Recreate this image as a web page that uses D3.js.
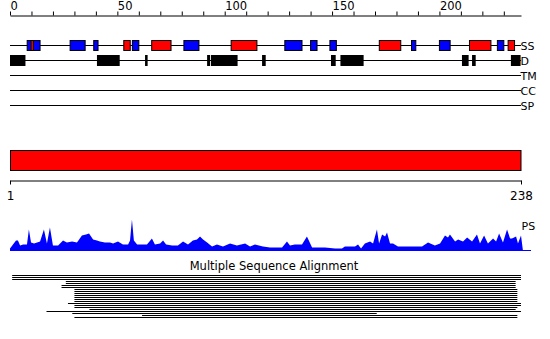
<!DOCTYPE html>
<html>
<head>
<meta charset="utf-8">
<script src="https://cdn.jsdelivr.net/npm/d3@7/dist/d3.min.js"></script>
<style>
    body { margin: 0; background: #fff; }
    svg text { font-family: "DejaVu Sans", sans-serif; fill: #000; }
</style>
</head>
<body>
<div id="chart"></div>
<script>
// * * * data (residue positions) * * *
const seqLength = 238;
const topTickLabels = [0, 50, 100, 150, 200];
const endLabels = [1, 238];
const trackNames = ["SS", "D", "TM", "CC", "SP"];

// secondary structure: strands (blue) and helices (red)
const strands = [[8, 14], [28, 35], [39, 41], [57, 60], [81, 88], [128, 136], [140, 143],
    [149, 152], [187, 189], [200, 205], [227, 230]];
const helices = [[9.8, 10.9], [53, 56], [66, 75], [103, 115], [172, 182], [214, 224], [232, 235]];

// disordered regions
const disorder = [[0, 7.2], [40.5, 51.1], [62.9, 64.1], [91.8, 93.2], [93.6, 106], [117.4, 119.1],
    [149.5, 151.7], [153.9, 164.7], [210.5, 213.6], [215.2, 216.9], [233.3, 237.8]];

// domain bar
const domains = [[0, 238]];

// PS profile
const psPos = [0, 1.4, 2.8, 3.7, 4.7, 6.1, 7.9, 8.8, 9.8, 11.2, 12.6, 14, 15.8, 17.2, 18.6, 20, 22.4,
    24.7, 26.5, 28.9, 31.2, 33.5, 35.4, 36.8, 38.7, 40.5, 41.9, 44.2, 46.6, 48, 50.3, 52.6, 55, 55.9,
    56.8, 57.7, 59.2, 63.8, 66.1, 67.5, 69.9, 71.3, 72.7, 75.5, 78.2, 80.6, 82.9, 85.2, 87.1, 88.5,
    89.9, 91.8, 94.1, 96.4, 99.2, 102.5, 105.7, 109.5, 111.8, 114.1, 117.8, 121.1, 126.7, 129, 130.4,
    132.7, 136, 138.3, 140.7, 146.7, 151.4, 154.6, 156, 160.7, 162.1, 163.5, 165.3, 167.7, 169.1,
    170.9, 171.9, 173.3, 174.7, 175.6, 177, 178.4, 180.7, 185.4, 187.2, 191.9, 194.7, 197.9, 200.3,
    202.6, 204, 204.9, 207.3, 208.7, 211, 212.9, 215.2, 217.5, 218.9, 220.8, 222.6, 225, 226.4,
    227.8, 229.6, 231.5, 232.9, 233.8, 235.7, 236.6, 238, 238.9];
const psVal = [2, 6, 10, 10, 5, 6, 6, 21, 8, 7, 8, 9, 21, 7, 23, 5, 5,
    10, 8, 9, 8, 15, 16, 17, 11, 10, 9, 8, 8, 7, 9, 6, 6, 10,
    31, 10, 6, 6, 12, 6, 7, 10, 6, 5, 5, 9, 6, 10, 11, 14,
    11, 8, 4, 6, 4, 7, 5, 7, 4, 6, 4, 3, 3, 9, 5,
    6, 6, 14, 3, 3, 2, 2, 4, 4, 6, 2, 7, 9, 7,
    21, 7, 16, 14, 18, 7, 7, 4, 4, 4, 4, 8, 5, 7,
    15, 13, 16, 9, 11, 9, 13, 9, 16, 7, 15, 7, 12, 9,
    17, 8, 21, 12, 12, 14, 7, 15, 0];

// multiple sequence alignment rows
const msaStart = [1, 1, 1, 26, 26, 24, 24, 30, 30, 30, 30, 30, 30, 30, 27, 30, 30, 37, 17, 29, 61.5, 30];
const msaEnd = [238, 238, 238, 235.5, 235.5, 235.5, 235.5, 236.3, 236.3, 236.3, 236.3, 236.3, 236.3,
    236.3, 238, 238, 236.3, 235.5, 238, 170.8, 236.3, 236.3];

// * * * drawing * * *
const width = 550, height = 339;

const svg = d3.select("#chart").append("svg")
    .attr("width", width)
    .attr("height", height);

// residue scale shared by all tracks
const x = d3.scaleLinear().domain([0, seqLength]).range([10, 521]);

// top ruler
const topAxis = d3.axisTop(x)
    .tickValues(d3.range(0, seqLength, 10))
    .tickSize(4)
    .tickSizeOuter(0)
    .tickFormat(d => topTickLabels.includes(d) ? d : "");

const gTop = svg.append("g")
    .attr("transform", "translate(0,15.5)")
    .call(topAxis);
gTop.select(".domain").attr("stroke", "#000");
gTop.selectAll(".tick line").attr("stroke", "#000");
gTop.selectAll(".tick text")
    .attr("font-family", "DejaVu Sans")
    .attr("font-size", "11.5px")
    .attr("text-anchor", "start")
    .attr("y", -5.5)
    .attr("dy", 0)
    .attr("fill", "#000");

// track base lines and labels
const trackY = d3.scalePoint().domain(trackNames).range([45.5, 105.5]);

svg.append("g").selectAll("line")
    .data(trackNames)
    .join("line")
    .attr("x1", x(0))
    .attr("x2", x(seqLength))
    .attr("y1", d => trackY(d))
    .attr("y2", d => trackY(d))
    .attr("stroke", "#000");

svg.append("g").selectAll("text")
    .data(trackNames)
    .join("text")
    .attr("x", x(seqLength) - 0.5)
    .attr("y", d => trackY(d) + 4)
    .attr("font-size", "11px")
    .text(d => d);

// secondary structure boxes
const ssGroup = svg.append("g");
ssGroup.selectAll("rect.strand")
    .data(strands)
    .join("rect")
    .attr("class", "strand")
    .attr("x", d => x(d[0]))
    .attr("width", d => x(d[1]) - x(d[0]))
    .attr("y", trackY("SS") - 5)
    .attr("height", 10)
    .attr("fill", "#0000ff")
    .attr("stroke", "#000");
ssGroup.selectAll("rect.helix")
    .data(helices)
    .join("rect")
    .attr("class", "helix")
    .attr("x", d => x(d[0]))
    .attr("width", d => x(d[1]) - x(d[0]))
    .attr("y", trackY("SS") - 5)
    .attr("height", 10)
    .attr("fill", "#ff0000")
    .attr("stroke", "#000");

// disorder boxes
svg.append("g").selectAll("rect")
    .data(disorder)
    .join("rect")
    .attr("x", d => x(d[0]))
    .attr("width", d => x(d[1]) - x(d[0]))
    .attr("y", trackY("D") - 5.5)
    .attr("height", 11)
    .attr("fill", "#000");

// domain bar
svg.append("g").selectAll("rect")
    .data(domains)
    .join("rect")
    .attr("x", d => x(d[0]) + 0.5)
    .attr("width", d => x(d[1]) - x(d[0]) - 0.5)
    .attr("y", 150.5)
    .attr("height", 20)
    .attr("fill", "#ff0000")
    .attr("stroke", "#000");

// sequence ruler under the domain bar
const xSeq = d3.scaleLinear().domain([1, seqLength]).range([10, 521]);
const gBottom = svg.append("g")
    .attr("transform", "translate(0,180.5)")
    .call(d3.axisBottom(xSeq).tickValues(endLabels).tickSize(4).tickSizeOuter(0));
gBottom.select(".domain").attr("stroke", "#000");
gBottom.selectAll(".tick line").attr("stroke", "#000");
gBottom.selectAll(".tick text")
    .attr("font-family", "DejaVu Sans")
    .attr("font-size", "12px")
    .attr("y", 19.5)
    .attr("dy", 0)
    .attr("fill", "#000");

// PS profile
const yPs = d3.scaleLinear().domain([0, 32]).range([250.5, 218.5]);
const psData = psPos.map((p, i) => ({pos: p, val: psVal[i]}));

svg.append("path")
    .datum(psData)
    .attr("d", d3.area()
        .x(d => x(d.pos))
        .y0(yPs(0))
        .y1(d => yPs(d.val)))
    .attr("fill", "#0000ff");

svg.append("line")
    .attr("x1", x(0))
    .attr("x2", 531)
    .attr("y1", yPs(0))
    .attr("y2", yPs(0))
    .attr("stroke", "#0000ff");

svg.append("text")
    .attr("x", x(seqLength) + 0.5)
    .attr("y", 230)
    .attr("font-size", "11px")
    .text("PS");

// multiple sequence alignment
svg.append("text")
    .attr("x", 274)
    .attr("y", 269.5)
    .attr("text-anchor", "middle")
    .attr("font-size", "11.5px")
    .text("Multiple Sequence Alignment");

const msaY = d3.scaleLinear().domain([0, 1]).range([275, 277]);
svg.append("g").selectAll("rect")
    .data(msaStart.map((s, i) => [s, msaEnd[i]]))
    .join("rect")
    .attr("x", d => x(d[0]))
    .attr("width", d => x(d[1]) - x(d[0]))
    .attr("y", (d, i) => msaY(i))
    .attr("height", 1)
    .attr("fill", "#000");
</script>
</body>
</html>
